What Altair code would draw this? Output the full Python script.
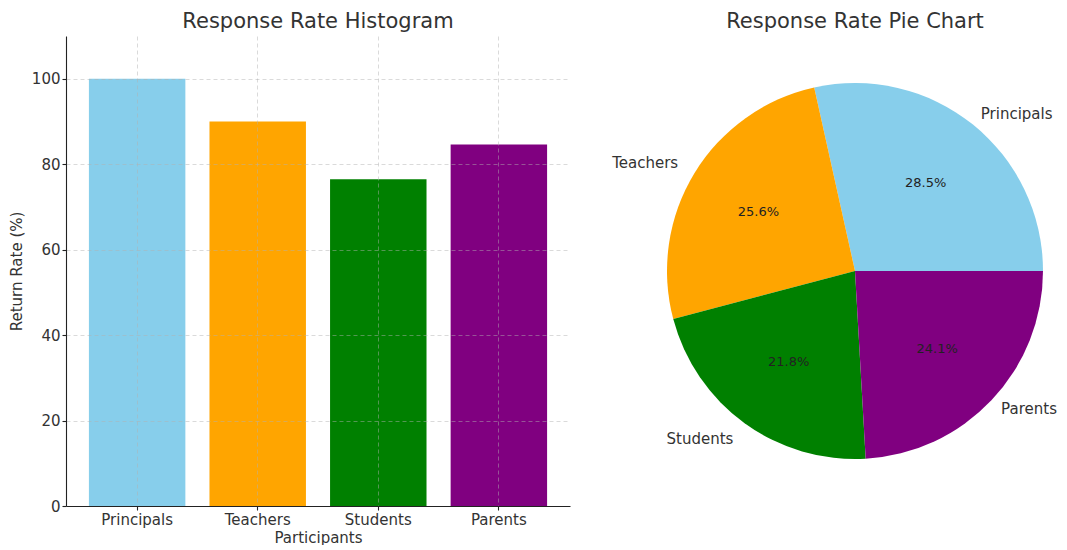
import math
import altair as alt
import pandas as pd

# ---- data ----
participants = ["Principals", "Teachers", "Students", "Parents"]
return_rate = [100.0, 90.0, 76.5, 84.6]
bar_colors = ["#87CEEB", "#FFA500", "#008000", "#800080"]
y_ticks = [0, 20, 40, 60, 80, 100]
right_side = ["Principals", "Parents"]
left_side = ["Teachers", "Students"]

df = pd.DataFrame({"participant": participants, "rate": return_rate,
                   "idx": list(range(len(participants)))})
total = sum(return_rate)

FONT = "DejaVu Sans"
TXT = "#333333"
color_scale = alt.Scale(domain=participants, range=bar_colors)

# ---- bar chart ----
bars = alt.Chart(df).mark_bar().encode(
    x=alt.X("participant:N", sort=participants, title="Participants",
            scale=alt.Scale(paddingInner=0.2, paddingOuter=0.19),
            axis=alt.Axis(labelAngle=0, bandPosition=0.5, grid=True, zindex=1,
                          labelPadding=2, titlePadding=3)),
    y=alt.Y("rate:Q", title="Return Rate (%)",
            scale=alt.Scale(domain=[0, 110], nice=False),
            axis=alt.Axis(values=y_ticks, grid=True, zindex=1,
                          labelPadding=2, titlePadding=7)),
    color=alt.Color("participant:N", scale=color_scale, legend=None),
).properties(
    width=504, height=470,
    title=alt.TitleParams("Response Rate Histogram", fontSize=21, font=FONT,
                          color=TXT, fontWeight="normal", anchor="middle", offset=4),
)

# ---- pie chart ----
theta_scale = alt.Scale(domain=[0, total], range=[math.pi / 2, math.pi / 2 - 2 * math.pi])

pie_base = alt.Chart(df).transform_window(
    cum="sum(rate)", sort=[alt.SortField("idx")], frame=[None, 0]
).transform_calculate(
    start="datum.cum - datum.rate",
    mid="datum.cum - datum.rate / 2",
    pct="format(datum.rate / %f * 100, '.1f') + '%%'" % total,
)

arcs = pie_base.mark_arc(outerRadius=188).encode(
    theta=alt.Theta("start:Q", scale=theta_scale, stack=None),
    theta2="cum:Q",
    color=alt.Color("participant:N", scale=color_scale, legend=None),
)

pct_text = pie_base.mark_text(radius=113, fontSize=13, font=FONT, color="#222222",
                              baseline="middle", align="center").encode(
    theta=alt.Theta("mid:Q", scale=theta_scale, stack=None),
    text="pct:N",
)

lab_right = pie_base.transform_filter(
    alt.FieldOneOfPredicate(field="participant", oneOf=right_side)
).mark_text(radius=201, fontSize=15, font=FONT, color=TXT,
            baseline="middle", align="left").encode(
    theta=alt.Theta("mid:Q", scale=theta_scale, stack=None),
    text="participant:N",
)

lab_left = pie_base.transform_filter(
    alt.FieldOneOfPredicate(field="participant", oneOf=left_side)
).mark_text(radius=207, fontSize=15, font=FONT, color=TXT,
            baseline="middle", align="right").encode(
    theta=alt.Theta("mid:Q", scale=theta_scale, stack=None),
    text="participant:N",
)

pie = alt.layer(arcs, pct_text, lab_right, lab_left).properties(
    width=400, height=470,
    title=alt.TitleParams("Response Rate Pie Chart", fontSize=21, font=FONT,
                          color=TXT, fontWeight="normal", anchor="middle", offset=4),
)

chart = alt.hconcat(bars, pie, spacing=85, bounds="flush").properties(
    padding={"left": 1, "top": 3, "right": 0, "bottom": 0}
).configure_view(
    strokeWidth=0
).configure_axis(
    domainColor="#222222", domainWidth=1.1,
    tickColor="#222222", tickWidth=1.1, tickSize=4,
    labelFont=FONT, labelFontSize=15, labelColor=TXT,
    titleFont=FONT, titleFontSize=15, titleFontWeight="normal", titleColor=TXT,
    gridColor="#b0b0b0", gridOpacity=0.6, gridWidth=0.8, gridDash=[4, 3],
).configure_text(font=FONT)

chart.save("out.html", embed_options={"renderer": "svg", "actions": False})
